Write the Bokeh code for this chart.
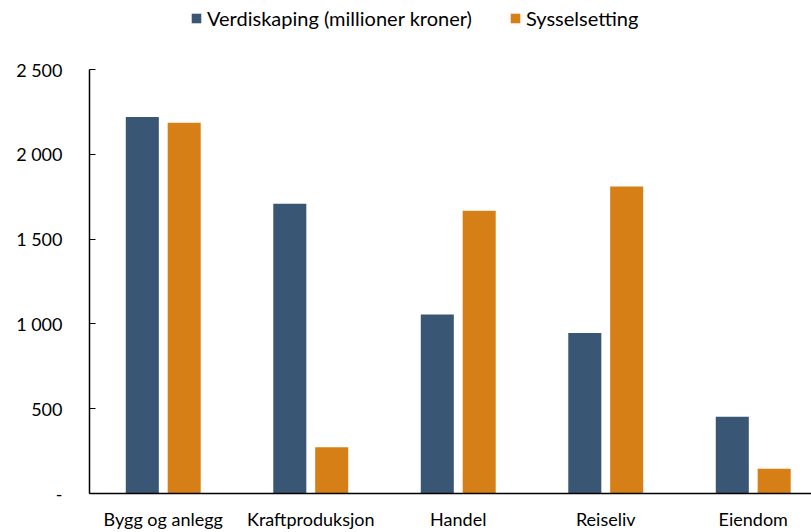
from bokeh.plotting import figure
from bokeh.models import ColumnDataSource, Range1d, FixedTicker, Legend, LegendItem
from bokeh.embed import file_html
from bokeh.resources import INLINE

categories = ["Bygg og anlegg", "Kraftproduksjon", "Handel", "Reiseliv", "Eiendom"]
verdiskaping = [2220, 1708, 1055, 947, 452]
sysselsetting = [2186, 273, 1667, 1810, 146]
series_names = ["Verdiskaping (millioner kroner)", "Sysselsetting"]
y_ticks = [0, 500, 1000, 1500, 2000, 2500]
y_tick_labels = ["-", "500", "1 000", "1 500", "2 000", "2 500"]

BLUE = "#3a5675"
ORANGE = "#d77f17"
FONT = "Lato"
FS = "18px"

xc = [i + 0.5 for i in range(len(categories))]
off = 0.142
bw = 0.224

src = ColumnDataSource(dict(
    xb=[x - off for x in xc], xo=[x + off for x in xc],
    v=verdiskaping, s=sysselsetting))

# frame spans the full height; axis drawn only from 0 to 2500 (bounds)
p = figure(output_backend="svg", toolbar_location=None,
           frame_width=722, frame_height=493,
           min_border_left=89, min_border_right=0, min_border_top=0, min_border_bottom=39,
           x_range=Range1d(0, 4.895), y_range=Range1d(0, 2500 * 493 / 424))
p.outline_line_color = None
p.xgrid.visible = False
p.ygrid.visible = False

r1 = p.vbar(x="xb", top="v", width=bw, source=src, fill_color=BLUE, line_color=None)
r2 = p.vbar(x="xo", top="s", width=bw, source=src, fill_color=ORANGE, line_color=None)

p.xaxis.ticker = FixedTicker(ticks=xc)
p.xaxis.major_label_overrides = {x: c for x, c in zip(xc, categories)}
p.xaxis.major_tick_line_color = None
p.xaxis.minor_tick_line_color = None
p.xaxis.axis_line_color = "#000000"
p.xaxis.axis_line_width = 1.5
p.xaxis.major_label_standoff = 8
p.xaxis.major_label_text_font = FONT
p.xaxis.major_label_text_font_size = FS
p.xaxis.major_label_text_color = "#000000"

p.yaxis.ticker = FixedTicker(ticks=y_ticks)
p.yaxis.bounds = (0, 2500)
p.yaxis.major_label_overrides = {t: l for t, l in zip(y_ticks, y_tick_labels)}
p.yaxis.minor_tick_line_color = None
p.yaxis.major_tick_in = 6
p.yaxis.major_tick_out = 0
p.yaxis.major_tick_line_color = "#000000"
p.yaxis.axis_line_color = "#000000"
p.yaxis.axis_line_width = 1.5
p.yaxis.major_label_standoff = 27
p.yaxis.major_label_text_font = FONT
p.yaxis.major_label_text_font_size = FS
p.yaxis.major_label_text_color = "#000000"

legend = Legend(items=[LegendItem(label=series_names[0], renderers=[r1]),
                       LegendItem(label=series_names[1], renderers=[r2])],
                orientation="horizontal", location=(101, 463),
                glyph_width=12, glyph_height=12, label_standoff=5, spacing=37,
                padding=0, margin=0, border_line_color=None,
                label_text_font=FONT, label_text_font_size="20px",
                label_text_color="#000000", background_fill_alpha=0)
p.add_layout(legend, "center")

open("out.html", "w").write(file_html(p, INLINE))
